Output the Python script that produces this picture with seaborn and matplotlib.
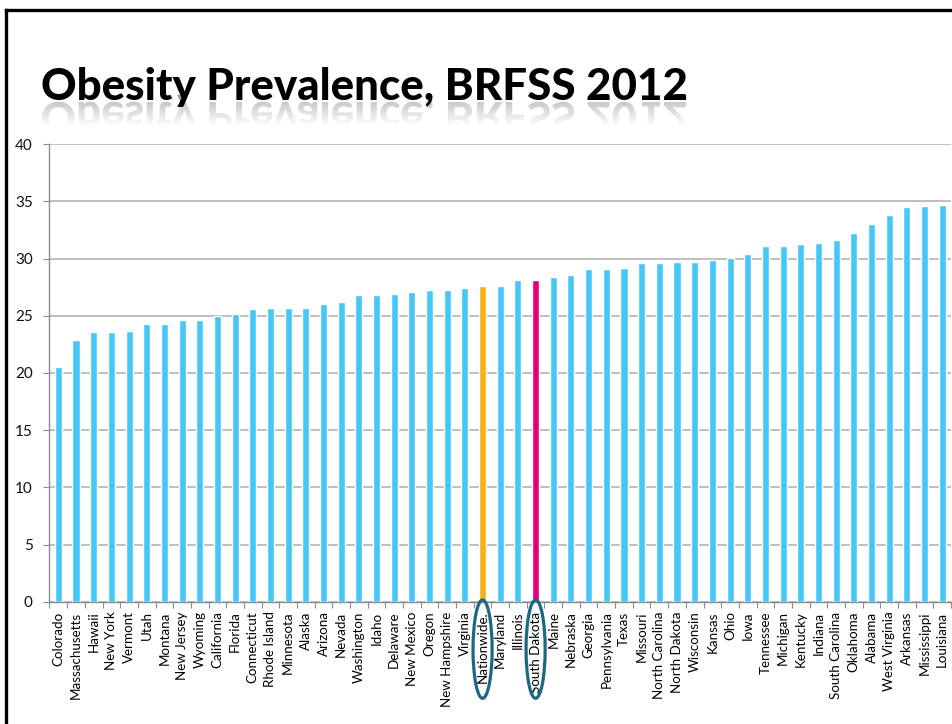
import numpy as np
import pandas as pd
import matplotlib
matplotlib.use("Agg")
import matplotlib.pyplot as plt
import seaborn as sns
from matplotlib.patches import Ellipse, PathPatch
from matplotlib.textpath import TextPath
from matplotlib.font_manager import FontProperties
from matplotlib.transforms import Affine2D
from matplotlib.lines import Line2D

# Adult obesity prevalence (%) by state, BRFSS 2012, sorted ascending
states = [
    "Colorado", "Massachusetts", "Hawaii", "New York", "Vermont", "Utah",
    "Montana", "New Jersey", "Wyoming", "California", "Florida", "Connecticut",
    "Rhode Island", "Minnesota", "Alaska", "Arizona", "Nevada", "Washington",
    "Idaho", "Delaware", "New Mexico", "Oregon", "New Hampshire", "Virginia",
    "Nationwide.", "Maryland", "Illinois", "South Dakota", "Maine", "Nebraska",
    "Georgia", "Pennsylvania", "Texas", "Missouri", "North Carolina",
    "North Dakota", "Wisconsin", "Kansas", "Ohio", "Iowa", "Tennessee",
    "Michigan", "Kentucky", "Indiana", "South Carolina", "Oklahoma", "Alabama",
    "West Virginia", "Arkansas", "Mississippi", "Louisiana",
]
prevalence = [
    20.5, 22.9, 23.6, 23.6, 23.7, 24.3,
    24.3, 24.6, 24.6, 25.0, 25.2, 25.6,
    25.7, 25.7, 25.7, 26.0, 26.2, 26.8,
    26.8, 26.9, 27.1, 27.3, 27.3, 27.4,
    27.6, 27.6, 28.1, 28.1, 28.4, 28.6,
    29.1, 29.1, 29.2, 29.6, 29.6,
    29.7, 29.7, 29.9, 30.1, 30.4, 31.1,
    31.1, 31.3, 31.4, 31.6, 32.2, 33.0,
    33.8, 34.5, 34.6, 34.7,
]
circled = ["Nationwide.", "South Dakota"]
y_ticks = [0, 5, 10, 15, 20, 25, 30, 35, 40]
title = "Obesity Prevalence, BRFSS 2012"

BASE = "#45C8F5"
HIGHLIGHT = {"Nationwide.": "#FBB01B", "South Dakota": "#E4007A"}
RING = "#1D6784"

sns.set_theme(style="white")
plt.rcParams["font.family"] = ["Lato", "DejaVu Sans"]

W, H = 953, 724
fig = plt.figure(figsize=(W / 100, H / 100), dpi=100)
fig.patch.set_facecolor("white")

# ---- chart -------------------------------------------------------------
ax = fig.add_axes([49.5 / W, 1 - 601.7 / H, (951 - 49.5) / W, (601.7 - 144.3) / H])
df = pd.DataFrame({"area": states, "pct": prevalence})
palette = {s: HIGHLIGHT.get(s, BASE) for s in states}
sns.barplot(data=df, x="area", y="pct", hue="area", palette=palette,
            legend=False, width=0.4, saturation=1, ax=ax, zorder=3)

ax.set_xlim(-0.5, len(states) - 0.5)
ax.set_ylim(0, 40)
ax.set_yticks(y_ticks)
ax.set_yticklabels([str(v) for v in y_ticks], fontsize=11, color="#111111")
ax.set_xlabel("")
ax.set_ylabel("")
ax.set_xticks(range(len(states)))
ax.set_xticklabels(states, rotation=90, fontsize=9.6, color="black")
ax.set_xticks(np.arange(-0.5, len(states)), minor=True)
ax.tick_params(axis="x", which="major", length=0, pad=7)
ax.tick_params(axis="x", which="minor", length=4, width=0.8, color="#8c8c8c",
               direction="out", bottom=True)
ax.tick_params(axis="y", which="major", length=4, width=0.8, color="#8c8c8c",
               direction="out", left=True, pad=8)

ax.yaxis.grid(True, color="#b4b4b4", lw=1.2)
ax.xaxis.grid(False)
ax.set_axisbelow(True)
for side in ("top", "right"):
    ax.spines[side].set_visible(False)
for side in ("left", "bottom"):
    ax.spines[side].set_color("#8c8c8c")
    ax.spines[side].set_linewidth(1.0)

# rings around the highlighted category labels
for name in circled:
    i = states.index(name)
    ax.add_patch(Ellipse((i, -4.15), width=1.08, height=8.6, fill=False,
                         ec=RING, lw=2.3, clip_on=False, zorder=5))

# ---- slide frame and title ---------------------------------------------
ov = fig.add_axes([0, 0, 1, 1], zorder=-1)
ov.set_xlim(0, W)
ov.set_ylim(0, H)
ov.axis("off")

ov.add_line(Line2D([6.5, 6.5], [0, H - 10], color="black", lw=2.4,
                   solid_capstyle="projecting"))
ov.add_line(Line2D([6.5, W], [H - 10, H - 10], color="black", lw=2.4,
                   solid_capstyle="projecting"))

fp = FontProperties(family="Lato", weight="black")
probe = TextPath((0, 0), title, size=100, prop=fp)
ext = probe.get_extents()
size_px = 100 * (686 - 42) / ext.width
x0, base = 42 - ext.x0 * size_px / 100, H - 100

# faded mirror image of the title under the baseline
mirror = TextPath((0, 0), title, size=size_px, prop=fp)
ov.add_patch(PathPatch(mirror, transform=Affine2D().scale(1, -1).translate(x0, base - 2) + ov.transData,
                       fc="#9a9a9a", ec="none", zorder=1))
grad = np.ones((64, 2, 4))
grad[..., 3] = np.linspace(0.45, 1.0, 64)[:, None]
ov.imshow(grad, extent=(30, 700, base - 26, base - 1), origin="upper",
          aspect="auto", zorder=2, interpolation="bilinear")
ov.add_patch(plt.Rectangle((30, base - 40), 670, 14, fc="white", ec="none", zorder=2))

ov.text(x0, base, title, fontproperties=fp, fontsize=size_px * 72 / 100,
        color="black", va="baseline", ha="left", zorder=3)
ov.set_xlim(0, W)
ov.set_ylim(0, H)

fig.savefig("out.png", dpi=100, facecolor="white")
